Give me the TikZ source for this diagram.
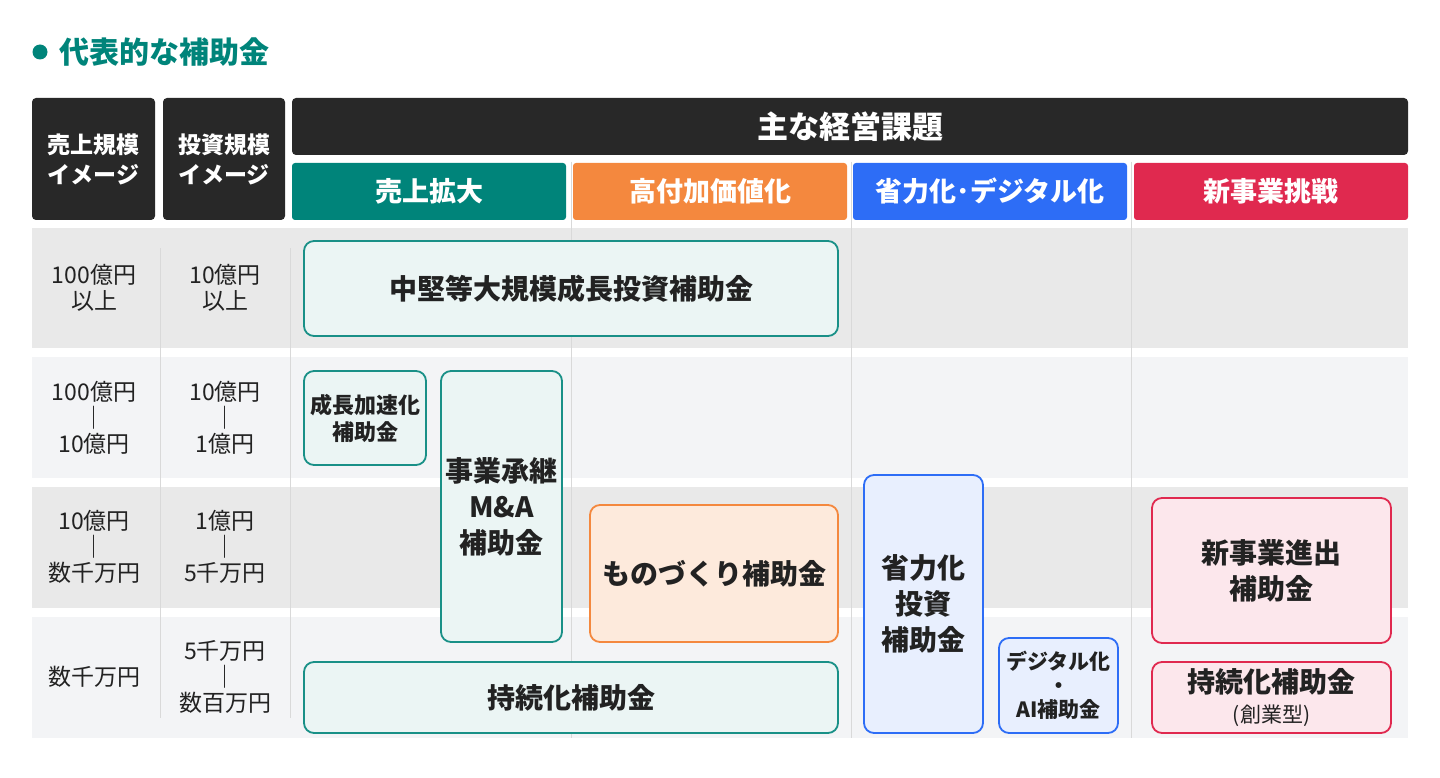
\documentclass[tikz,border=0pt]{standalone}
\usepackage{fontspec}
\setmainfont{Noto Sans CJK JP}
\definecolor{tmava}{HTML}{282828}
\definecolor{tyrkys}{HTML}{00847A}
\definecolor{oranz}{HTML}{F4883E}
\definecolor{modra}{HTML}{2D6DF6}
\definecolor{cervena}{HTML}{E0294F}
\definecolor{pasA}{HTML}{E9E9E9}
\definecolor{pasB}{HTML}{F3F4F6}
\definecolor{cara}{HTML}{D9D9D9}
\definecolor{pismo}{HTML}{222222}
\begin{document}
\begin{tikzpicture}[x=1pt,y=-1pt,
    hlava/.style={fill=tmava,rounded corners=4pt,text=white,inner sep=0pt,
        font=\bfseries\fontsize{23}{30}\selectfont,align=center},
    kat/.style={rounded corners=3pt,text=white,inner sep=0pt,
        minimum width=274pt,minimum height=57pt,font=\bfseries\fontsize{27}{30}\selectfont},
    popis/.style={text=pismo,align=center,font=\fontsize{23}{26}\selectfont},
    dotace/.style={draw,line width=1.8pt,rounded corners=10pt,text=pismo,inner sep=0pt,
        align=center,font=\bfseries\fontsize{28}{36}\selectfont}]

  \useasboundingbox (0,0) rectangle (1440,778);

  \begin{scope}   % nadpis
    \fill[tyrkys] (40,52) circle (7.5);
    \node[anchor=west,text=tyrkys,font=\bfseries\fontsize{30}{34}\selectfont]
         (nadpis) at (56,52) {代表的な補助金};
  \end{scope}

  \begin{scope}   % radky tabulky
    \def\Lx{32};
    \def\Rx{1408};
    \fill[pasA] (\Lx,228) rectangle (\Rx,348);
    \fill[pasB] (\Lx,357) rectangle (\Rx,478);
    \fill[pasA] (\Lx,487) rectangle (\Rx,608);
    \fill[pasB] (\Lx,617) rectangle (\Rx,738);

    \foreach \x in {160,290}
       \draw[cara,thin] (\x,248)--(\x,718);
    \foreach \x in {571,851,1131}
       \draw[cara,thin] (\x,162)--(\x,738);
  \end{scope}

  \begin{scope}   % hlavicka
    \node[hlava,minimum width=123pt,minimum height=122pt] (trzby) at (93.5,159)
         {売上規模\\イメージ};
    \node[hlava,minimum width=122pt,minimum height=122pt] (invest) at (224,159)
         {投資規模\\イメージ};
    \node[hlava,minimum width=1116pt,minimum height=57pt,
          font=\bfseries\fontsize{31}{34}\selectfont] (temata) at (850,126.5) {主な経営課題};

    \node[kat,fill=tyrkys]  (K1) at (429,191.5) {売上拡大};
    \node[kat,fill=oranz]   (K2) at (710,191.5) {高付加価値化};
    \node[kat,fill=modra]   (K3) at (990,191.5) {省力化･デジタル化};
    \node[kat,fill=cervena] (K4) at (1271,191.5) {新事業挑戦};
  \end{scope}

  \begin{scope}   % popisky radku
    \def\Ax{94};
    \def\Bx{225};
    \node[popis] (A1) at (\Ax,288) {100億円\\以上};
    \node[popis] (B1) at (\Bx,288) {10億円\\以上};
    \node[popis] (A2) at (\Ax,418) {100億円\\｜\\10億円};
    \node[popis] (B2) at (\Bx,418) {10億円\\｜\\1億円};
    \node[popis] (A3) at (\Ax,547) {10億円\\｜\\数千万円};
    \node[popis] (B3) at (\Bx,547) {1億円\\｜\\5千万円};
    \node[popis] (A4) at (\Ax,677) {数千万円};
    \node[popis] (B4) at (\Bx,677) {5千万円\\｜\\数百万円};
  \end{scope}

  \begin{scope}   % dotace
    \node[dotace,draw=tyrkys!90!white,fill=tyrkys!8,minimum width=534pt,minimum height=95pt]
         (stredni) at (571,288.5) {中堅等大規模成長投資補助金};
    \node[dotace,draw=tyrkys!90!white,fill=tyrkys!8,minimum width=122pt,minimum height=94pt,
          font=\bfseries\fontsize{22}{27}\selectfont]
         (zrychleni) at (365,418) {成長加速化\\補助金};
    \node[dotace,draw=tyrkys!90!white,fill=tyrkys!8,minimum width=121pt,minimum height=271pt]
         (nastupce) at (501.5,506.5) {事業承継\\M\&A\\補助金};
    \node[dotace,draw=tyrkys!90!white,fill=tyrkys!8,minimum width=534pt,minimum height=71pt]
         (udrz) at (571,697.5) {持続化補助金};

    \node[dotace,draw=oranz,fill=oranz!18,minimum width=248pt,minimum height=137pt]
         (vyroba) at (714,573.5) {ものづくり補助金};

    \node[dotace,draw=modra,fill=modra!11,minimum width=119pt,minimum height=258pt]
         (uspora) at (923.5,604) {省力化\\投資\\補助金};
    \node[dotace,draw=modra,fill=modra!11,minimum width=119pt,minimum height=95pt,
          font=\bfseries\fontsize{21}{24}\selectfont]
         (digital) at (1058.5,685.5) {デジタル化\\・\\AI補助金};

    \node[dotace,draw=cervena,fill=cervena!11,minimum width=239pt,minimum height=145pt]
         (novy) at (1271.5,570.5) {新事業進出\\補助金};
    \node[dotace,draw=cervena,fill=cervena!11,minimum width=239pt,minimum height=71pt]
         (zalozeni) at (1271.5,697.5)
         {持続化補助金\\[-6pt]{\mdseries\fontsize{21}{24}\selectfont (創業型)}};
  \end{scope}

\end{tikzpicture}
\end{document}
